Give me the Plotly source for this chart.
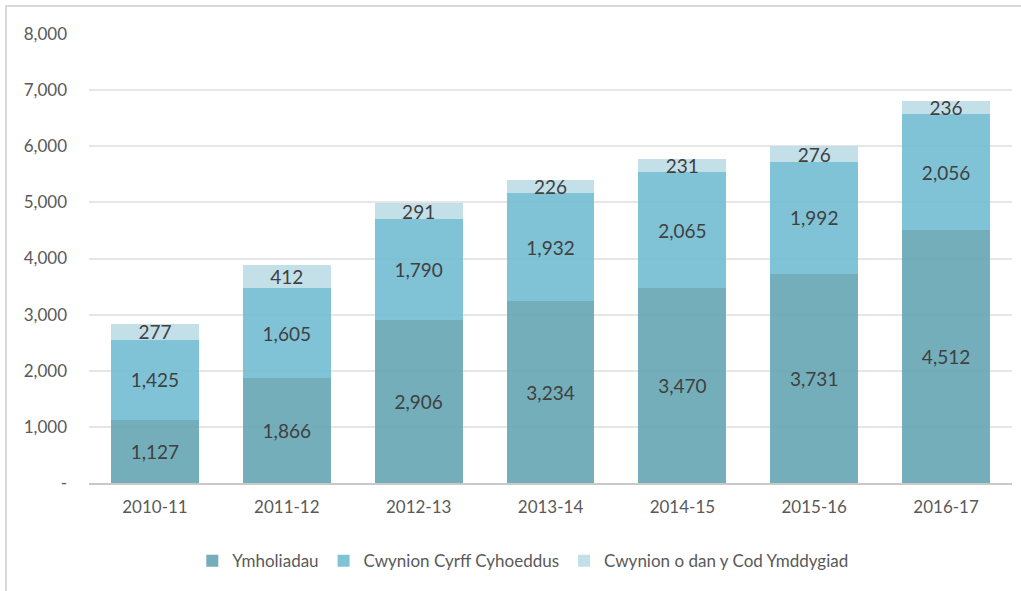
import plotly.graph_objects as go

categories = ["2010-11", "2011-12", "2012-13", "2013-14", "2014-15", "2015-16", "2016-17"]
ymholiadau = [1127, 1866, 2906, 3234, 3470, 3731, 4512]
cwynion_cyrff = [1425, 1605, 1790, 1932, 2065, 1992, 2056]
cwynion_cod = [277, 412, 291, 226, 231, 276, 236]
series_names = ["Ymholiadau", "Cwynion Cyrff Cyhoeddus", "Cwynion o dan y Cod Ymddygiad"]
y_tickvals = [0, 1000, 2000, 3000, 4000, 5000, 6000, 7000, 8000]
y_ticktext = ["-", "1,000", "2,000", "3,000", "4,000", "5,000", "6,000", "7,000", "8,000"]

colors = ["rgba(100,165,179,0.9)", "rgba(114,189,209,0.9)", "rgba(188,219,229,0.9)"]
FONT = "Lato, 'Open Sans', sans-serif"

fig = go.Figure()
for name, vals, col in zip(series_names, [ymholiadau, cwynion_cyrff, cwynion_cod], colors):
    fig.add_trace(go.Bar(
        x=categories, y=vals, name=name,
        marker=dict(color=col, line=dict(width=0)),
        text=[f"{v:,}" for v in vals],
        textposition="inside", insidetextanchor="middle", textangle=0,
        textfont=dict(family=FONT, size=19, color="#404040"),
        cliponaxis=False,
    ))

fig.update_layout(
    barmode="stack",
    bargap=0.333,
    width=1021, height=591,
    margin=dict(l=89, r=9, t=34, b=108),
    paper_bgcolor="white", plot_bgcolor="white",
    font=dict(family=FONT, color="#595959"),
    uniformtext=dict(minsize=19, mode="show"),
    legend=dict(orientation="h", x=0.47, xanchor="center", y=-0.174, yanchor="middle",
                font=dict(family=FONT, size=17, color="#595959"),
                itemwidth=30, traceorder="normal"),
    xaxis=dict(type="category", showgrid=False, tickfont=dict(family=FONT, size=17, color="#595959"),
               showline=True, linecolor="#c8c8c8", linewidth=1.5, ticks="", ticklabelstandoff=8),
    yaxis=dict(range=[0, 8000], tickvals=y_tickvals, ticktext=y_ticktext,
               showgrid=True, gridcolor="#e6e6e6", gridwidth=1.5, zeroline=False,
               tickfont=dict(family=FONT, size=17, color="#595959"), ticklabelstandoff=21),
    shapes=[dict(type="rect", xref="paper", yref="paper",
                 x0=(6 - 89) / 923, x1=1.03, y0=-0.3, y1=1 + (34 - 6) / 449,
                 line=dict(color="#d9d9d9", width=2), layer="below")],
)

fig.write_html("out.html", config={"displayModeBar": False},
               post_script="document.body.style.margin='0';document.body.style.overflow='hidden';")
